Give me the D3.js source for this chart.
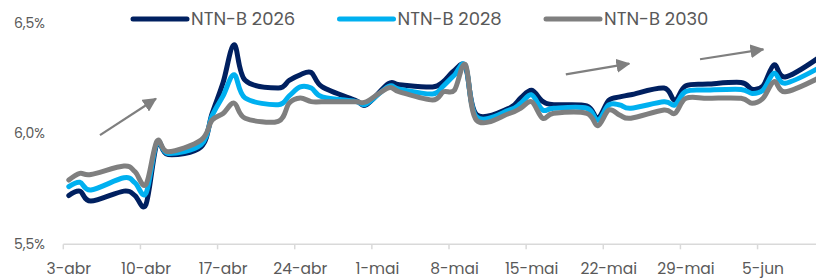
<!DOCTYPE html>
<meta charset="utf-8">
<html>
<head><title>NTN-B</title></head>
<style>
body { margin: 0; background: #fff; }
text { font-family: Poppins, Inter, sans-serif; fill: #595959; }
</style>
<body>
<script src="https://cdn.jsdelivr.net/npm/d3@7"></script>
<svg id="chart" width="816" height="278"></svg>
<script>

// business days (2024)
var dates = ["04-03","04-04","04-05","04-08","04-09","04-10","04-11","04-12","04-15","04-16",
  "04-17","04-18","04-19","04-22","04-23","04-24","04-25","04-26","04-29","04-30",
  "05-02","05-03","05-06","05-07","05-08","05-09","05-10","05-13","05-14","05-15",
  "05-16","05-17","05-20","05-21","05-22","05-23","05-24","05-27","05-28","05-29",
  "05-31","06-03","06-04","06-05","06-06","06-07","06-10"];

var ntnb2026 = [5.72,5.74,5.695,5.74,5.72,5.68,5.955,5.905,5.94,6.09,
  6.23,6.40,6.24,6.205,6.24,6.265,6.275,6.21,6.15,6.13,
  6.225,6.22,6.21,6.235,6.285,6.30,6.085,6.115,6.16,6.195,
  6.145,6.13,6.125,6.07,6.15,6.165,6.175,6.205,6.15,6.215,
  6.223,6.23,6.20,6.215,6.31,6.255,6.34];

var ntnb2028 = [5.76,5.78,5.745,5.80,5.778,5.73,5.96,5.91,5.95,6.08,
  6.17,6.265,6.16,6.13,6.17,6.21,6.205,6.165,6.145,6.133,
  6.212,6.20,6.178,6.215,6.264,6.305,6.075,6.106,6.136,6.174,
  6.106,6.114,6.114,6.06,6.129,6.129,6.114,6.143,6.129,6.19,
  6.196,6.199,6.181,6.196,6.272,6.227,6.294];

var ntnb2030 = [5.79,5.82,5.815,5.853,5.828,5.77,5.965,5.918,5.97,6.06,
  6.09,6.137,6.069,6.055,6.137,6.16,6.144,6.143,6.143,6.143,
  6.206,6.188,6.151,6.188,6.196,6.31,6.06,6.091,6.114,6.143,
  6.069,6.091,6.091,6.035,6.106,6.083,6.069,6.106,6.091,6.159,
  6.159,6.159,6.136,6.159,6.234,6.188,6.249];

var seriesNames = ["NTN-B 2026", "NTN-B 2028", "NTN-B 2030"];
var seriesColors = ["#002060", "#00b0f0", "#7f7f7f"];
var yTicks = [5.5, 6.0, 6.5];
var xTickLabels = ["3-abr","10-abr","17-abr","24-abr","1-mai","8-mai","15-mai","22-mai","29-mai","5-jun"];

// trend arrows: [days from 3-abr, yield]
var arrows = [
  {from: [3.33, 5.993], to: [8.77, 6.166]},
  {from: [45.6, 6.267], to: [51.72, 6.324]},
  {from: [57.78, 6.335], to: [63.88, 6.389]}
];

var svg = d3.select("#chart"),
  width = +svg.attr("width"),
  height = +svg.attr("height");

var parse = d3.timeParse("%Y-%m-%d %H");
var start = parse("2024-04-03 00");
var end = parse("2024-06-11 00");
var dayW = 11.02;

var x = d3.scaleTime()
  .domain([start, end])
  .range([63.3, 63.3 + dayW * d3.timeDay.count(start, end)]);

var y = d3.scaleLinear()
  .domain([5.5, 6.5])
  .range([244.3, 22.7]);

function dayPos(d) { return x(new Date(start.getTime() + d * 864e5)); }

// x axis
var tickDates = xTickLabels.map(function(l, i) { return d3.timeDay.offset(start, i * 7); });
var xAxis = svg.append("g").attr("transform", "translate(0," + y(5.5) + ")");
xAxis.append("line")
  .attr("x1", x(start)).attr("x2", width)
  .style("stroke", "#d9d9d9").style("stroke-width", 1.5);
xAxis.selectAll("line.tick")
  .data(tickDates).enter().append("line")
  .attr("class", "tick")
  .attr("x1", function(d) { return x(d); })
  .attr("x2", function(d) { return x(d); })
  .attr("y1", 0).attr("y2", 5)
  .style("stroke", "#d9d9d9").style("stroke-width", 1.5);
xAxis.selectAll("text")
  .data(tickDates).enter().append("text")
  .attr("x", function(d) { return x(d) + dayW / 2; })
  .attr("y", 29.5)
  .attr("text-anchor", "middle")
  .style("font-size", "15.5px")
  .text(function(d, i) { return xTickLabels[i]; });

// y labels
var fmt = d3.format(".1f");
svg.append("g").selectAll("text")
  .data(yTicks).enter().append("text")
  .attr("x", 45)
  .attr("y", function(d) { return y(d); })
  .attr("dy", "0.35em")
  .attr("text-anchor", "end")
  .style("font-size", "14px")
  .text(function(d) { return fmt(d).replace(".", ",") + "%"; });

// lines
var series = [ntnb2026, ntnb2028, ntnb2030].map(function(vals, i) {
  return {name: seriesNames[i], color: seriesColors[i],
    values: vals.map(function(v, j) { return {date: parse("2024-" + dates[j] + " 12"), value: v}; })};
});

var line = d3.line()
  .curve(d3.curveCardinal.tension(0))
  .x(function(d) { return x(d.date); })
  .y(function(d) { return y(d.value); });

svg.append("defs").append("clipPath").attr("id", "clip")
  .append("rect").attr("x", 0).attr("y", 0).attr("width", width).attr("height", height);

svg.append("g").attr("clip-path", "url(#clip)")
  .selectAll("path")
  .data(series).enter().append("path")
  .attr("d", function(d) { return line(d.values); })
  .style("fill", "none")
  .style("stroke", function(d) { return d.color; })
  .style("stroke-width", 5)
  .style("stroke-linejoin", "round")
  .style("stroke-linecap", "round");

// arrows
svg.select("defs").append("marker")
  .attr("id", "head")
  .attr("markerUnits", "userSpaceOnUse")
  .attr("viewBox", "0 0 12 12")
  .attr("refX", 11).attr("refY", 6)
  .attr("markerWidth", 14).attr("markerHeight", 14)
  .attr("orient", "auto")
  .append("path").attr("d", "M0,0 L12,6 L0,12 Z")
  .style("fill", "#7f7f7f");

svg.append("g").selectAll("line")
  .data(arrows).enter().append("line")
  .attr("x1", function(d) { return dayPos(d.from[0]); })
  .attr("y1", function(d) { return y(d.from[1]); })
  .attr("x2", function(d) { return dayPos(d.to[0]) - 4; })
  .attr("y2", function(d) { return y(d.to[1]) + 2; })
  .style("stroke", "#7f7f7f")
  .style("stroke-width", 2.2)
  .attr("marker-end", "url(#head)");

// legend
var legend = svg.append("g").selectAll("g")
  .data(series).enter().append("g")
  .attr("transform", function(d, i) { return "translate(" + (133 + i * 206.5) + ",19)"; });
legend.append("line")
  .attr("x1", 0).attr("x2", 54)
  .style("stroke", function(d) { return d.color; })
  .style("stroke-width", 5)
  .style("stroke-linecap", "round");
legend.append("text")
  .attr("x", 58).attr("dy", "0.35em")
  .style("font-size", "18px")
  .text(function(d) { return d.name; });

</script>
</body>
</html>
